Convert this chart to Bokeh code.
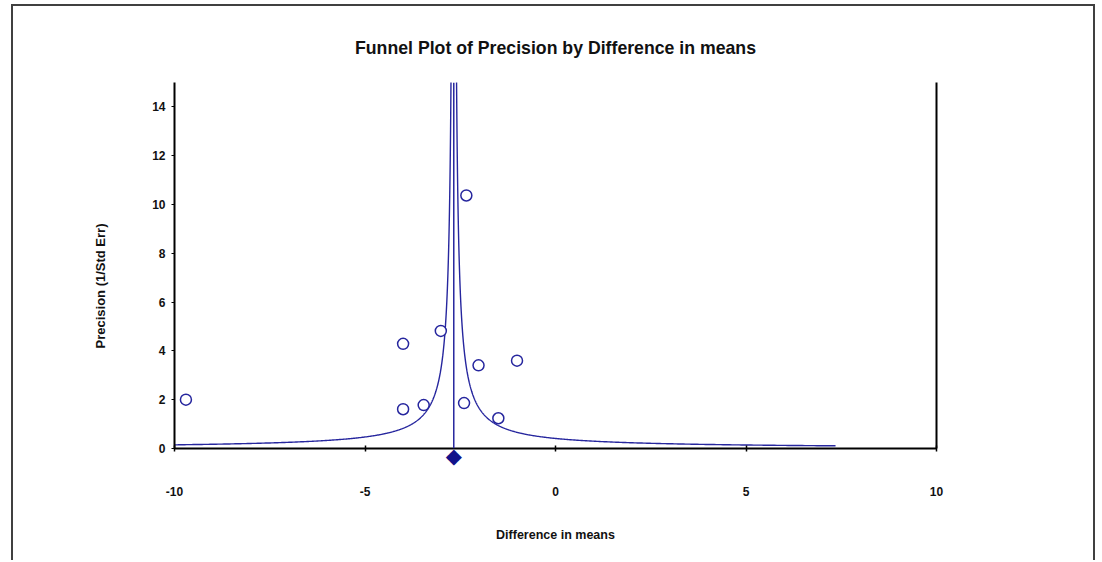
import numpy as np
from bokeh.plotting import figure
from bokeh.models import Range1d, FixedTicker, LinearAxis, Span
from bokeh.embed import file_html
from bokeh.resources import INLINE

# ---- data ----
diff_means = [-9.70, -4.00, -3.01, -4.00, -3.46, -2.40, -2.02, -1.01, -1.50, -2.34]
precision = [2.00, 4.29, 4.82, 1.61, 1.78, 1.86, 3.41, 3.60, 1.24, 10.37]
summary_effect = -2.67          # overall difference in means (diamond / vertical line)
funnel_const = 1.1              # funnel half-width * precision
funnel_max_halfwidth = 10.02    # the funnel lines end at this distance from the mean
x_ticks = [-10, -5, 0, 5, 10]
x_tick_labels = ["-10", "-5", "0", "5", "10"]
y_ticks = [0, 2, 4, 6, 8, 10, 12, 14]
y_tick_labels = ["0", "2", "4", "6", "8", "10", "12", "14"]
x_title = "Difference in means"
y_title = "Precision (1/Std Err)"

# style constants
FONT = "Liberation Sans"
NAVY = "#26269e"
YTITLE_CENTER = 6.66   # vertical centre of the y title (in axis units)

p = figure(width=1084, height=556,
           x_range=Range1d(-10, 10), y_range=Range1d(0, 15),
           x_axis_location=None,
           output_backend="svg", toolbar_location=None,
           min_border_left=161, min_border_right=161,
           min_border_top=76, min_border_bottom=114,
           title="Funnel Plot of Precision by Difference in means")
p.styles = {"margin-left": "11px", "margin-top": "4px",
            "border-left": "2px solid #404040", "border-right": "2px solid #404040",
            "border-top": "2px solid #404040"}
p.background_fill_color = "white"
p.border_fill_color = "white"
p.outline_line_color = None
p.xgrid.visible = False
p.ygrid.visible = False

p.title.align = "center"
p.title.text_font = FONT
p.title.text_font_style = "bold"
p.title.text_font_size = "17.7px"
p.title.text_color = "#111111"
p.title.standoff = 50

# x axis line + ticks, carrying the summary diamond as its only label
xa_line = LinearAxis(ticker=FixedTicker(ticks=[summary_effect], minor_ticks=x_ticks),
                     major_label_overrides={summary_effect: "\u25C6"})
xa_line.axis_line_width = 2
xa_line.axis_line_color = "black"
xa_line.major_tick_line_color = None
xa_line.major_tick_in = 0
xa_line.major_tick_out = 0
xa_line.minor_tick_in = 3
xa_line.minor_tick_out = 3
xa_line.minor_tick_line_color = "black"
xa_line.minor_tick_line_width = 1.5
xa_line.major_label_standoff = -8
xa_line.major_label_text_font = "DejaVu Sans"
xa_line.major_label_text_font_size = "21px"
xa_line.major_label_text_color = "#12128a"
p.add_layout(xa_line, "below")

# x axis tick labels and title
xa = LinearAxis(ticker=FixedTicker(ticks=x_ticks),
                major_label_overrides={t: s for t, s in zip(x_ticks, x_tick_labels)})
xa.axis_line_color = None
xa.major_tick_line_color = None
xa.minor_tick_line_color = None
xa.major_tick_in = 0
xa.major_tick_out = 0
xa.major_label_standoff = 16
xa.major_label_text_font = FONT
xa.major_label_text_font_style = "bold"
xa.major_label_text_font_size = "12px"
xa.major_label_text_color = "#111111"
xa.axis_label = x_title
xa.axis_label_standoff = 29
xa.axis_label_text_font = FONT
xa.axis_label_text_font_style = "bold"
xa.axis_label_text_font_size = "12.5px"
xa.axis_label_text_color = "#111111"
p.add_layout(xa, "below")

# y axis
ya = p.yaxis[0]
ya.ticker = FixedTicker(ticks=y_ticks)
ya.major_label_overrides = {t: s for t, s in zip(y_ticks, y_tick_labels)}
ya.major_tick_in = 0
ya.major_tick_out = 3
ya.minor_tick_line_color = None
ya.axis_line_width = 2
ya.axis_line_color = "black"
ya.major_tick_line_color = "black"
ya.major_label_standoff = 6
ya.major_label_text_font = FONT
ya.major_label_text_font_style = "bold"
ya.major_label_text_font_size = "12px"
ya.major_label_text_color = "#111111"

# y title (sits a little below the frame centre, as in the reference)
ytitle_axis = LinearAxis(ticker=FixedTicker(ticks=[YTITLE_CENTER]),
                         major_label_overrides={YTITLE_CENTER: y_title},
                         major_label_orientation="vertical")
ytitle_axis.axis_line_color = None
ytitle_axis.major_tick_line_color = None
ytitle_axis.minor_tick_line_color = None
ytitle_axis.major_tick_in = 0
ytitle_axis.major_tick_out = 0
ytitle_axis.major_label_standoff = 41
ytitle_axis.major_label_text_font = FONT
ytitle_axis.major_label_text_font_style = "bold"
ytitle_axis.major_label_text_font_size = "13px"
ytitle_axis.major_label_text_color = "#111111"
p.add_layout(ytitle_axis, "left")

# right border line of the plot area
ra = LinearAxis(ticker=FixedTicker(ticks=[]), axis_line_width=2, axis_line_color="black",
                major_tick_line_color=None, minor_tick_line_color=None,
                major_label_text_font_size="0px")
p.add_layout(ra, "right")

# funnel lines
pmin = funnel_const / funnel_max_halfwidth
prec_grid = np.geomspace(pmin, 16, 600)
p.line(summary_effect - funnel_const / prec_grid, prec_grid, line_color=NAVY, line_width=1.4)
p.line(summary_effect + funnel_const / prec_grid, prec_grid, line_color=NAVY, line_width=1.4)

# vertical line at the summary effect
p.add_layout(Span(location=summary_effect, dimension="height", line_color=NAVY, line_width=1.5))

# studies
p.scatter(diff_means, precision, marker="circle", size=11, fill_color="white",
          line_color=NAVY, line_width=1.5)

open("out.html", "w").write(file_html(p, INLINE))
